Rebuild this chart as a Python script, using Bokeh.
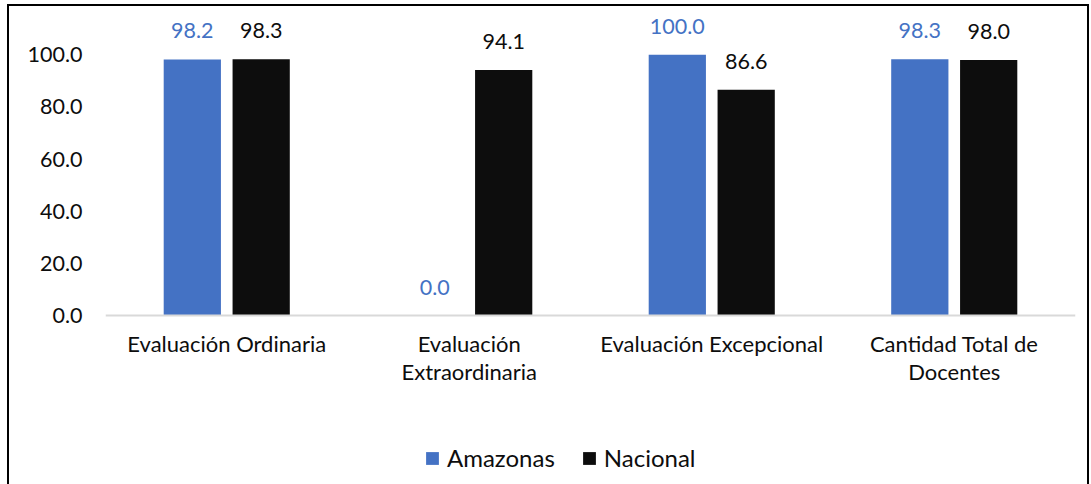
from bokeh.plotting import figure
from bokeh.models import (ColumnDataSource, FactorRange, Range1d, Legend, LegendItem,
                          LabelSet, FixedTicker, NumeralTickFormatter)
from bokeh.transform import dodge
from bokeh.core.properties import value
from bokeh.embed import file_html
from bokeh.resources import INLINE

categories = ["Evaluación Ordinaria", "Evaluación\nExtraordinaria",
              "Evaluación Excepcional", "Cantidad Total de\nDocentes"]
amazonas = [98.2, 0.0, 100.0, 98.3]
nacional = [98.3, 94.1, 86.6, 98.0]
series_names = ["Amazonas", "Nacional"]
y_ticks = [0, 20, 40, 60, 80, 100]

BLUE = "#4472C4"
BLACK = "#0D0D0D"
FONT = "Lato"
FS_NUM = "21.5px"
FS_CAT = "22px"
FS_LEG = "24px"

src = ColumnDataSource(dict(
    cat=categories,
    amazonas=amazonas,
    nacional=nacional,
    amazonas_txt=[f"{v:.1f}" for v in amazonas],
    nacional_txt=[f"{v:.1f}" for v in nacional],
))

# frame spans down to the bottom edge; the category axis is pinned at y = 0
p = figure(x_range=FactorRange(*categories, range_padding=0.0),
           y_range=Range1d(-65.4, 117.7),
           width=1082, height=480,
           output_backend="svg", toolbar_location=None,
           min_border_left=96, min_border_right=16,
           min_border_top=2, min_border_bottom=0,
           styles={"margin-left": "7px", "margin-top": "4px",
                   "border-left": "2px solid #000", "border-top": "2px solid #000",
                   "border-right": "2px solid #000"})

off = 0.142
bw = 0.236
r1 = p.vbar(x=dodge("cat", -off, range=p.x_range), top="amazonas", width=bw,
            source=src, fill_color=BLUE, line_color=None)
r2 = p.vbar(x=dodge("cat", off, range=p.x_range), top="nacional", width=bw,
            source=src, fill_color=BLACK, line_color=None)

l1 = LabelSet(x=dodge("cat", -off, range=p.x_range), y="amazonas", text="amazonas_txt",
              source=src, text_align="center", text_baseline="bottom", y_offset=21,
              text_font=value(FONT), text_font_size=value(FS_NUM), text_color=value(BLUE))
l2 = LabelSet(x=dodge("cat", off, range=p.x_range), y="nacional", text="nacional_txt",
              source=src, text_align="center", text_baseline="bottom", y_offset=21,
              text_font=value(FONT), text_font_size=value(FS_NUM), text_color=value(BLACK))
p.add_layout(l1)
p.add_layout(l2)

p.xgrid.visible = False
p.ygrid.visible = False
p.outline_line_color = None

p.yaxis.ticker = FixedTicker(ticks=y_ticks)
p.yaxis.formatter = NumeralTickFormatter(format="0.0")
p.yaxis.axis_line_color = None
p.yaxis.major_tick_line_color = None
p.yaxis.minor_tick_line_color = None
p.yaxis.major_tick_out = 0
p.yaxis.minor_tick_out = 0
p.yaxis.major_label_standoff = 23
p.yaxis.major_label_text_font = FONT
p.yaxis.major_label_text_font_size = FS_NUM
p.yaxis.major_label_text_color = BLACK

p.xaxis.fixed_location = 0
p.xaxis.axis_line_color = "#D9D9D9"
p.xaxis.axis_line_width = 2
p.xaxis.major_tick_line_color = None
p.xaxis.major_tick_out = 0
p.xaxis.major_label_standoff = 14
p.xaxis.major_label_text_font = FONT
p.xaxis.major_label_text_font_size = FS_CAT
p.xaxis.major_label_text_color = BLACK
p.xaxis.major_label_text_line_height = 1.05

legend = Legend(items=[LegendItem(label=series_names[0], renderers=[r1]),
                       LegendItem(label=series_names[1], renderers=[r2])],
                location=(319, 14), orientation="horizontal",
                glyph_width=16, glyph_height=16, label_standoff=7, spacing=26,
                label_text_font=FONT, label_text_font_size=FS_LEG, label_text_color=BLACK,
                label_height=20, padding=0, margin=0,
                border_line_color=None, background_fill_alpha=0)
p.add_layout(legend)

open("out.html", "w").write(file_html(p, INLINE))
